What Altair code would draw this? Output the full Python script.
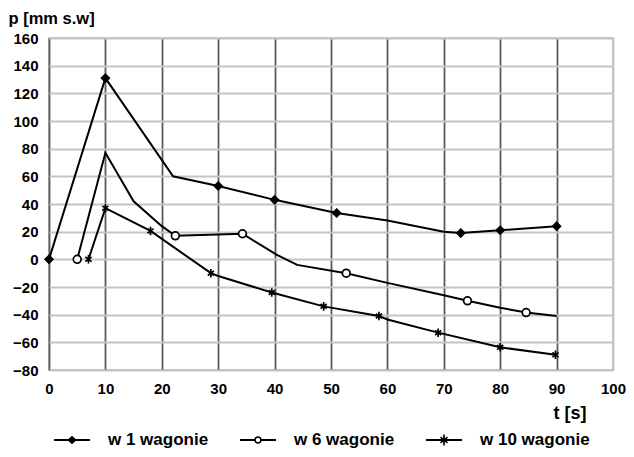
import altair as alt
import pandas as pd

SERIES = ["w 1 wagonie", "w 6 wagonie", "w 10 wagonie"]

# w 1 wagonie (filled diamonds)
t1 = [0, 10, 22, 30, 40, 51, 60, 70, 73, 80, 90]
p1 = [0, 131, 60, 53, 43, 33.5, 28, 20, 19, 21, 24]
m1 = [1, 1, 0, 1, 1, 1, 0, 0, 1, 1, 1]

# w 6 wagonie (open circles)
t2 = [5, 10, 15, 20, 22.4, 34.3, 40.5, 44, 52.7, 60, 70, 74.2, 80, 84.6, 90]
p2 = [0, 77, 42, 24, 17, 18.5, 3, -4, -10, -17, -26, -30, -35, -38.5, -41]
m2 = [1, 0, 0, 0, 1, 1, 0, 0, 1, 0, 0, 1, 0, 1, 0]

# w 10 wagonie (stars)
t3 = [7, 10, 18, 28.7, 30, 39.5, 48.7, 58.5, 60, 69, 80, 89.8]
p3 = [0, 37, 20.5, -10, -12, -24, -34, -41, -43.5, -53, -63.6, -69]
m3 = [1, 1, 1, 1, 0, 1, 1, 1, 0, 1, 1, 1]

x_ticks = list(range(0, 101, 10))
y_ticks = list(range(-80, 161, 20))

rows = []
for name, ts, ps, ms in zip(SERIES, [t1, t2, t3], [p1, p2, p3], [m1, m2, m3]):
    for t, p, m in zip(ts, ps, ms):
        rows.append({"t": t, "p": p, "series": name, "mk": m})
df = pd.DataFrame(rows)

FONT = "Liberation Sans"

PT_SHAPES = [
    "M0,-1L1,0L0,1L-1,0Z",
    "M1,0A1,1 0 1,1 -1,0A1,1 0 1,1 1,0Z",
    "M0,-1.1V1.1M-0.8,-0.6L0.8,0.6M-0.8,0.6L0.8,-0.6",
]
# legend symbols: line + marker, built only from filled areas
LG_SHAPES = [
    "M-1,-0.055H1V0.055H-1Z M0,-0.24L0.26,0L0,0.24L-0.26,0Z",
    "M-1,-0.055H-0.2V0.055H-1Z M0.2,-0.055H1V0.055H0.2Z "
    "M0.21,0A0.21,0.21 0 1,1 -0.21,0A0.21,0.21 0 1,1 0.21,0Z "
    "M0.12,0A0.12,0.12 0 1,0 -0.12,0A0.12,0.12 0 1,0 0.12,0Z",
    "M-1,-0.055H1V0.055H-1Z M-0.045,-0.3H0.045V0.3H-0.045Z "
    "M-0.22,-0.13L-0.17,-0.19L0.22,0.13L0.17,0.19Z "
    "M-0.17,0.19L-0.22,0.13L0.17,-0.19L0.22,-0.13Z",
]
FILLS = ["black", "white", "black"]

x = alt.X(
    "t:Q",
    scale=alt.Scale(domain=[0, 100], nice=False, zero=False),
    axis=alt.Axis(
        values=x_ticks, title="t [s]", titleAngle=0, titleX=537, titleY=43,
        titleAlign="right", titleBaseline="middle", titleFont=FONT,
        titleFontSize=18, titleFontWeight="bold", titleColor="black",
        labelFont=FONT, labelFontSize=15, labelFontWeight="bold", labelColor="black",
        labelPadding=11, tickSize=0, domain=False, labelFlush=False,
        grid=True, gridWidth=1.8,
        gridColor={"condition": {"test": "datum.value == 100", "value": "#c4c4c4"}, "value": "#5a5a5a"},
    ),
)
y = alt.Y(
    "p:Q",
    scale=alt.Scale(domain=[-80, 160], nice=False, zero=False),
    axis=alt.Axis(
        values=y_ticks, title="p [mm s.w]", titleAngle=0, titleX=-41, titleY=-20,
        titleAlign="left", titleBaseline="middle", titleFont=FONT,
        titleFontSize=16.5, titleFontWeight="bold", titleColor="black",
        labelFont=FONT, labelFontSize=15, labelFontWeight="bold", labelColor="black",
        labelPadding=11, tickSize=0, domain=False, labelFlush=False,
        grid=True, gridWidth=2, gridColor="#c4c4c4",
    ),
)

lines = alt.Chart(df).mark_line(color="black", strokeWidth=2).encode(
    x=x, y=y, detail="series:N"
)

points = alt.Chart(df).transform_filter("datum.mk == 1").mark_point(
    size=60, stroke="black", strokeWidth=1.7, opacity=1
).encode(
    x=x, y=y,
    shape=alt.Shape("series:N", scale=alt.Scale(domain=SERIES, range=PT_SHAPES), legend=None),
    fill=alt.Fill("series:N", scale=alt.Scale(domain=SERIES, range=FILLS), legend=None),
)

leg = alt.Legend(
    orient="none", legendX=5, legendY=384, direction="horizontal", title=None,
    symbolSize=1296, symbolStrokeWidth=0, symbolFillColor="black", symbolOpacity=1,
    labelFont=FONT, labelFontSize=17, labelFontWeight="bold", labelColor="black",
    labelOffset=18, columnPadding=31, padding=0,
)

legend_layer = alt.Chart(df).mark_point(
    size=1, filled=True, color="black", opacity=0
).encode(
    x=x, y=y,
    shape=alt.Shape("series:N", scale=alt.Scale(domain=SERIES, range=LG_SHAPES), legend=leg),
)

chart = alt.layer(lines, points, legend_layer).resolve_scale(
    shape="independent", fill="independent"
).properties(
    width=564, height=332,
    autosize=alt.AutoSizeParams(type="none"),
    padding={"left": 41, "top": 30, "right": 13, "bottom": 79},
    background="white",
).configure_view(stroke="#c4c4c4", strokeWidth=2)

chart.save("out.html", embed_options={"renderer": "svg", "actions": False})
